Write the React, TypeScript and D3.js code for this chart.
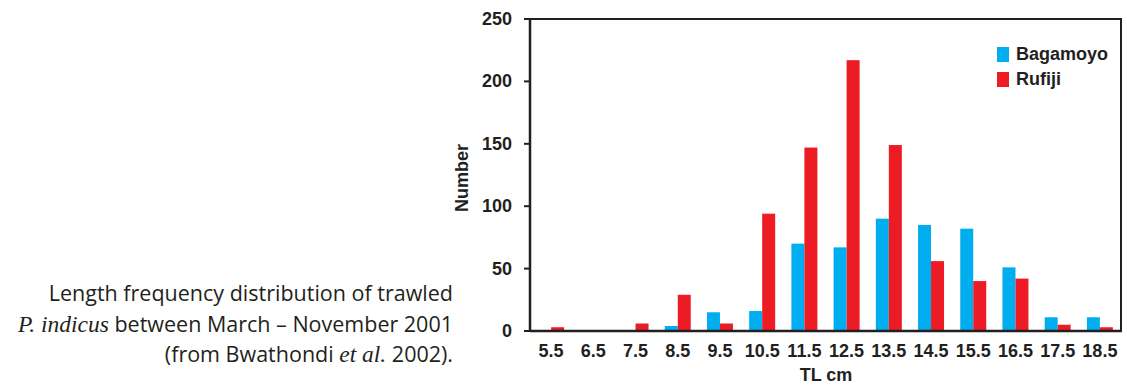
import React from 'react';
import * as d3 from 'd3';

const categories = ['5.5', '6.5', '7.5', '8.5', '9.5', '10.5', '11.5', '12.5', '13.5', '14.5', '15.5', '16.5', '17.5', '18.5'];
const seriesNames = ['Bagamoyo', 'Rufiji'];
const bagamoyo = [0, 0, 0, 4, 15, 16, 70, 67, 90, 85, 82, 51, 11, 11];
const rufiji = [3, 0, 6, 29, 6, 94, 147, 217, 149, 56, 40, 42, 5, 3];
const yTicks = [0, 50, 100, 150, 200, 250];
const colors = ['#00aeef', '#ed1c24'];

const W = 1127;
const H = 385;
const ink = '#231f20';
const axisFont = '"Liberation Sans", Arial, sans-serif';

const App = () => {
  const left = 530, right = 1121, top = 19, bottom = 331;

  const x = d3.scaleBand().domain(categories).range([left, right]).padding(0);
  const groupW = 26;
  const xs = d3.scaleBand().domain(seriesNames).range([0, groupW]).padding(0);
  const y = d3.scaleLinear().domain([0, 250]).range([bottom, top]);

  const values = [bagamoyo, rufiji];

  return (
    <svg width={W} height={H} style={{ position: 'absolute', left: 0, top: 0 }}>
      {/* bars */}
      {values.map((vals, si) =>
        vals.map((v, i) => {
          const c = categories[i];
          const cx = (x(c) as number) + x.bandwidth() / 2 - groupW / 2;
          return v > 0 ? (
            <rect
              key={`${si}-${i}`}
              x={cx + (xs(seriesNames[si]) as number)}
              y={y(v)}
              width={xs.bandwidth()}
              height={y(0) - y(v)}
              fill={colors[si]}
            />
          ) : null;
        })
      )}

      {/* frame */}
      <line x1={left} x2={right} y1={top} y2={top} stroke={ink} strokeWidth={2} />
      <line x1={right} x2={right} y1={top - 1} y2={bottom + 1} stroke={ink} strokeWidth={2} />
      <line x1={left} x2={left} y1={top - 1} y2={bottom + 1} stroke={ink} strokeWidth={2.5} />
      <line x1={left} x2={right + 1} y1={bottom} y2={bottom} stroke={ink} strokeWidth={2.5} />

      {/* y ticks */}
      {yTicks.map(t => (
        <g key={t}>
          <line x1={left - 6} x2={left} y1={y(t)} y2={y(t)} stroke={ink} strokeWidth={2} />
          <text
            x={512}
            y={y(t) + 6}
            textAnchor="end"
            fontFamily={axisFont}
            fontWeight="bold"
            fontSize={18}
            fill={ink}
          >
            {t}
          </text>
        </g>
      ))}

      {/* x tick labels */}
      {categories.map(c => (
        <text
          key={c}
          x={(x(c) as number) + x.bandwidth() / 2}
          y={357}
          textAnchor="middle"
          fontFamily={axisFont}
          fontWeight="bold"
          fontSize={18}
          fill={ink}
        >
          {c}
        </text>
      ))}

      {/* axis titles */}
      <text x={826} y={381} textAnchor="middle" fontFamily={axisFont} fontWeight="bold" fontSize={18} fill={ink}>
        TL cm
      </text>
      <text
        transform="translate(468,178) rotate(-90)"
        textAnchor="middle"
        fontFamily={axisFont}
        fontWeight="bold"
        fontSize={18}
        fill={ink}
      >
        Number
      </text>

      {/* legend */}
      {seriesNames.map((s, i) => (
        <g key={s} transform={`translate(997,${47 + i * 25})`}>
          <rect width={12} height={15} fill={colors[i]} />
          <text x={19} y={13} fontFamily={axisFont} fontWeight="bold" fontSize={18} fill={ink}>
            {s}
          </text>
        </g>
      ))}

      {/* caption */}
      <g fontFamily='"Open Sans", "Noto Sans", sans-serif' fontSize={21.5} fill={ink} textAnchor="end">
        <text x={453} y={301}>Length frequency distribution of trawled</text>
        <text x={453} y={332}>
          <tspan fontFamily='"Liberation Serif", serif' fontStyle="italic" fontSize={23.5}>P. indicus</tspan>
          <tspan> between March – November 2001</tspan>
        </text>
        <text x={453} y={362}>
          <tspan>(from Bwathondi </tspan>
          <tspan fontFamily='"Liberation Serif", serif' fontStyle="italic" fontSize={23.5}>et al.</tspan>
          <tspan> 2002).</tspan>
        </text>
      </g>
    </svg>
  );
};

export default App;
